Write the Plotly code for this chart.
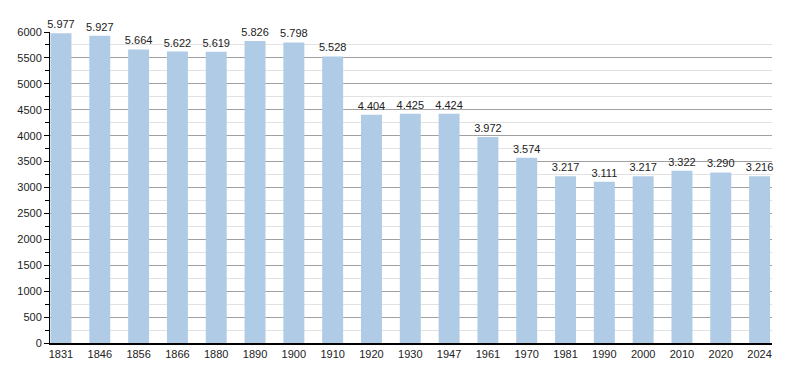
import plotly.graph_objects as go

years = ["1831", "1846", "1856", "1866", "1880", "1890", "1900", "1910", "1920", "1930",
         "1947", "1961", "1970", "1981", "1990", "2000", "2010", "2020", "2024"]
population = [5977, 5927, 5664, 5622, 5619, 5826, 5798, 5528, 4404, 4425,
              4424, 3972, 3574, 3217, 3111, 3217, 3322, 3290, 3216]
labels = [f"{v:,}".replace(",", ".") for v in population]

fig = go.Figure(go.Bar(
    x=years, y=population, text=labels, textposition="outside",
    cliponaxis=False, width=0.54, constraintext="none",
    marker=dict(color="#b0cbe5", line=dict(width=0)),
    textfont=dict(size=11, color="#222222"),
))

fig.update_layout(
    width=800, height=373,
    margin=dict(l=50, r=28, t=32, b=30),
    paper_bgcolor="white", plot_bgcolor="white",
    font=dict(family="Liberation Sans, Arial, sans-serif", size=11, color="#222222"),
    showlegend=False,
    xaxis=dict(type="category", range=[-0.283, 18.32], showline=True, linecolor="black",
               linewidth=1.5, ticks="", showgrid=False, tickfont=dict(size=11)),
    yaxis=dict(range=[0, 6000], dtick=500, tick0=0, showline=True, linecolor="black",
               linewidth=1, ticks="outside", ticklen=5, tickcolor="black",
               showgrid=True, gridcolor="#a0a0a0", gridwidth=1, zeroline=False,
               tickfont=dict(size=11),
               minor=dict(dtick=250, ticks="outside", ticklen=4, tickcolor="black",
                          showgrid=True, gridcolor="#e2e2e2", gridwidth=1)),
)

fig.write_html("out.html", config={"displayModeBar": False},
               post_script="document.body.style.margin='0';")
